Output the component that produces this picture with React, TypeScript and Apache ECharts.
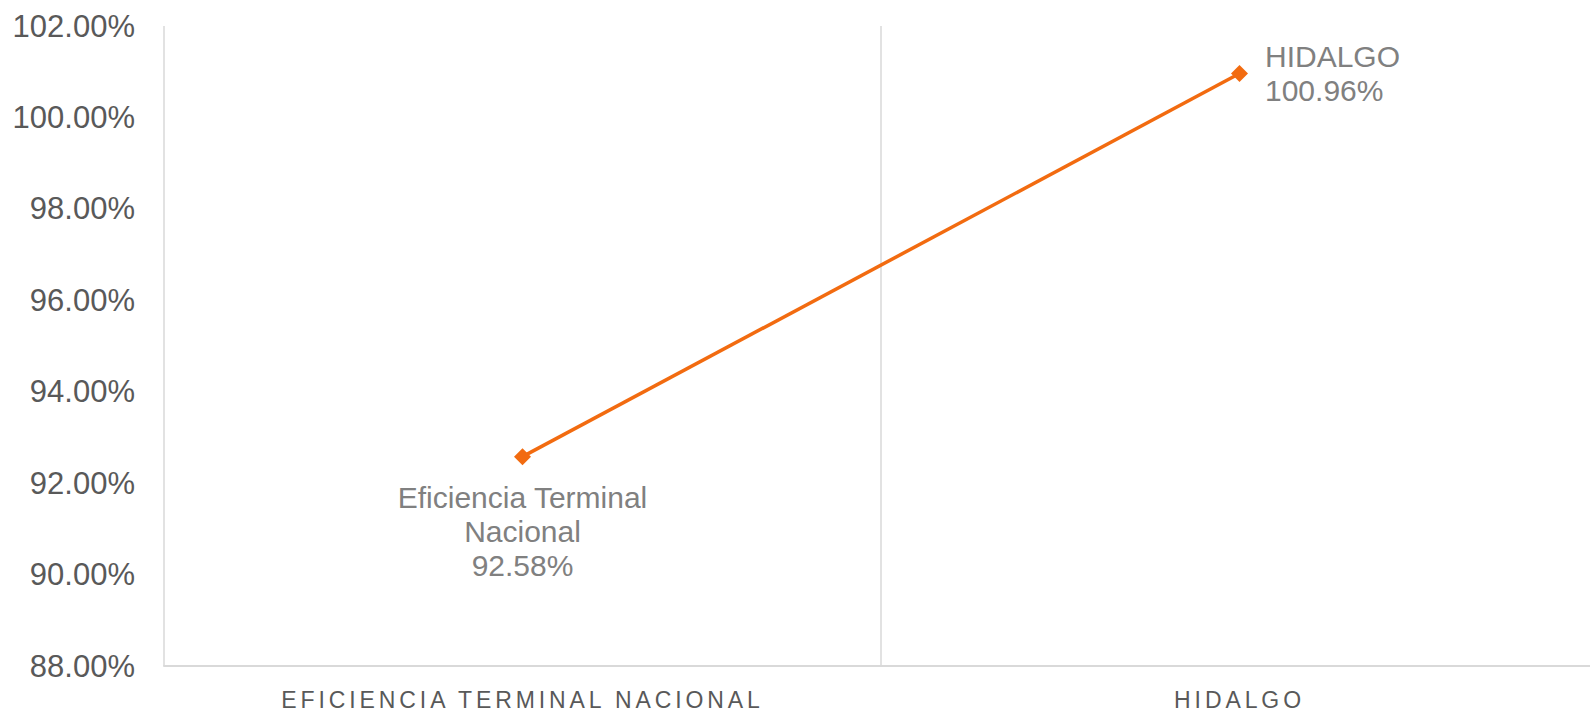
import React, { useEffect, useRef } from "react";
import * as echarts from "echarts";

const categories = ["EFICIENCIA TERMINAL NACIONAL", "HIDALGO"];
const seriesNames = ["Eficiencia Terminal Nacional", "HIDALGO"];
const values = [92.58, 100.96];
const yMin = 88;
const yMax = 102;
const yInterval = 2;

export default function App() {
  const ref = useRef<HTMLDivElement>(null);

  useEffect(() => {
    if (!ref.current) return;
    const chart = echarts.init(ref.current, undefined, { renderer: "svg" });
    const font = "'Liberation Sans', Arial, sans-serif";
    chart.setOption({
      animation: false,
      backgroundColor: "#ffffff",
      grid: {
        left: 164,
        top: 26,
        width: 1434,
        height: 640,
        containLabel: false,
        outerBoundsMode: "none",
      },
      xAxis: {
        type: "category",
        data: categories,
        boundaryGap: true,
        axisLine: { show: true, lineStyle: { color: "#d9d9d9", width: 2 } },
        axisTick: { show: false },
        splitLine: { show: true, lineStyle: { color: "#d9d9d9", width: 1.5 } },
        axisLabel: {
          color: "#595959",
          fontFamily: font,
          fontSize: 23,
          margin: 22,
          interval: 0,
        },
      },
      yAxis: {
        type: "value",
        min: yMin,
        max: yMax,
        interval: yInterval,
        axisLine: { show: false },
        axisTick: { show: false },
        splitLine: { show: false },
        axisLabel: {
          color: "#595959",
          fontFamily: font,
          fontSize: 31,
          margin: 29,
          formatter: (v: number) => v.toFixed(2) + "%",
        },
      },
      series: [
        {
          type: "line",
          data: values.map((v, i) => ({
            value: v,
            label: {
              show: true,
              position: i === 0 ? "bottom" : "right",
              distance: i === 0 ? 15 : 17,
              align: i === 0 ? "center" : "left",
              formatter: () =>
                i === 0
                  ? "Eficiencia Terminal\nNacional\n" + v.toFixed(2) + "%"
                  : seriesNames[i] + "\n" + v.toFixed(2) + "%",
            },
          })),
          symbol: "diamond",
          symbolSize: 17,
          lineStyle: { color: "#F26B10", width: 3.5 },
          itemStyle: { color: "#F26B10" },
          label: {
            color: "#808080",
            fontFamily: font,
            fontSize: 30,
            lineHeight: 34,
          },
        },
      ],
    });
    const texts = ref.current.querySelectorAll("text");
    texts.forEach((t) => {
      const c = (t.textContent || "").trim();
      if (categories.includes(c)) {
        let y = 0;
        try {
          y = (t as SVGTextElement).getBBox().y;
        } catch (e) {
          y = 0;
        }
        const style = t.getAttribute("style") || "";
        if (y > 650 || style.indexOf("23px") >= 0) {
          t.setAttribute("letter-spacing", "3.9");
        }
      }
    });
    return () => chart.dispose();
  }, []);

  return (
    <div
      ref={ref}
      style={{ position: "absolute", left: 0, top: 0, width: 1590, height: 713 }}
    />
  );
}
